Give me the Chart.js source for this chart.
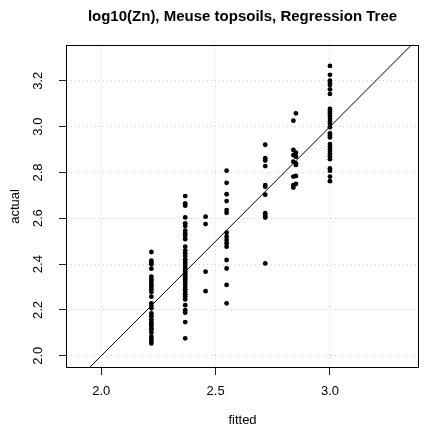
<!DOCTYPE html>
<html>
<head>
<meta charset="utf-8">
<style>
  html, body { margin: 0; padding: 0; background: #fff; }
  #chart-container { width: 432px; height: 427px; }
</style>
</head>
<body>
<div id="chart-container">
  <canvas id="tree-fit" width="432" height="427"></canvas>
</div>

<script src="https://cdn.jsdelivr.net/npm/chart.js@4"></script>
<script>
  // fitted value of each leaf of the tree
  const leafFitted = [2.219, 2.367, 2.456, 2.548, 2.717, 2.840, 2.851, 3.000];

  // observed log10(Zn) of the points that fall in each leaf
  const leaf1 = [2.453, 2.415, 2.408, 2.399, 2.380, 2.345, 2.333, 2.323, 2.311, 2.301, 2.290, 2.278, 2.258, 2.229, 2.218,
                 2.207, 2.185, 2.173, 2.159, 2.148, 2.140, 2.130, 2.119, 2.112, 2.100, 2.083, 2.074, 2.064, 2.054];
  const leaf2 = [2.697, 2.665, 2.655, 2.604, 2.578, 2.566, 2.546, 2.534, 2.523, 2.509, 2.476, 2.459, 2.447, 2.435, 2.421,
                 2.410, 2.400, 2.389, 2.377, 2.367, 2.360, 2.351, 2.342, 2.333, 2.323, 2.313, 2.301, 2.290, 2.279, 2.269,
                 2.258, 2.246, 2.221, 2.199, 2.188, 2.147, 2.076];
  const leaf3 = [2.607, 2.575, 2.367, 2.282];
  const leaf4 = [2.808, 2.755, 2.705, 2.675, 2.636, 2.624, 2.537, 2.520, 2.505, 2.491, 2.476, 2.418, 2.381, 2.309, 2.229];
  const leaf5 = [2.921, 2.862, 2.852, 2.828, 2.745, 2.738, 2.703, 2.622, 2.611, 2.603, 2.403];
  const leaf6 = [3.026, 2.898, 2.876, 2.847, 2.782, 2.745, 2.734];
  const leaf7 = [3.058, 2.886, 2.869, 2.840, 2.833, 2.785, 2.750];
  const leaf8 = [3.265, 3.226, 3.201, 3.192, 3.182, 3.163, 3.143, 3.077, 3.068, 3.058, 3.047, 3.035, 3.022, 3.012, 2.997,
                 2.971, 2.961, 2.953, 2.924, 2.913, 2.902, 2.891, 2.881, 2.870, 2.858, 2.818, 2.808, 2.782, 2.762];

  const xTicks = [2.0, 2.5, 3.0];
  const yTicks = [2.0, 2.2, 2.4, 2.6, 2.8, 3.0, 3.2];
  const oneToOne = [1.8, 3.4];

  const FONT = "'Liberation Sans', Arial, Helvetica, sans-serif";

  const leaves = [leaf1, leaf2, leaf3, leaf4, leaf5, leaf6, leaf7, leaf8];
  const points = [];
  leaves.forEach((vals, i) => vals.forEach((v) => points.push({ x: leafFitted[i], y: v })));

  // R style box round the plot region
  const plotBox = {
    id: 'plotBox',
    afterDraw(chart) {
      const { ctx, chartArea: a } = chart;
      ctx.save();
      ctx.strokeStyle = '#000';
      ctx.lineWidth = 1;
      ctx.strokeRect(a.left - 0.5, a.top - 0.5, a.right - a.left + 1, a.bottom - a.top + 1);
      ctx.restore();
    }
  };

  const gridOpts = {
    color: '#d3d3d3',
    lineWidth: 1,
    tickColor: '#222',
    tickWidth: 1,
    tickLength: 8
  };

  new Chart(document.getElementById('tree-fit'), {
    type: 'scatter',
    data: {
      datasets: [
        {
          label: '1:1',
          type: 'line',
          data: oneToOne.map((v) => ({ x: v, y: v })),
          borderColor: '#000',
          borderWidth: 1,
          pointRadius: 0,
          fill: false
        },
        {
          label: 'log10(Zn)',
          data: points,
          backgroundColor: '#000',
          borderWidth: 0,
          pointRadius: 2.4,
          pointHoverRadius: 2.4
        }
      ]
    },
    options: {
      responsive: false,
      animation: false,
      layout: { padding: { left: 0, right: 14, top: 0, bottom: 0 } },
      plugins: {
        legend: { display: false },
        tooltip: { enabled: false },
        title: {
          display: true,
          text: 'log10(Zn), Meuse topsoils, Regression Tree',
          fullSize: false,
          color: '#000',
          font: { family: FONT, size: 15, weight: 'bold', lineHeight: 1.2 },
          padding: { top: 8, bottom: 20 }
        }
      },
      scales: {
        x: {
          type: 'linear',
          min: 1.850,
          max: 3.385,
          afterBuildTicks: (scale) => { scale.ticks = xTicks.map((v) => ({ value: v })); },
          afterFit: (scale) => { scale.height = 60; },
          grid: gridOpts,
          border: { display: false, dash: [1, 3] },
          ticks: {
            color: '#000',
            font: { family: FONT, size: 13 },
            padding: 8.7,
            maxRotation: 0,
            callback: (v) => Number(v).toFixed(1)
          },
          title: {
            display: true,
            text: 'fitted',
            color: '#000',
            font: { family: FONT, size: 13, lineHeight: 1 },
            padding: { top: 0, bottom: 0 }
          }
        },
        y: {
          type: 'linear',
          min: 1.951,
          max: 3.352,
          afterBuildTicks: (scale) => { scale.ticks = yTicks.map((v) => ({ value: v })); },
          afterFit: (scale) => { scale.width = 67; },
          grid: gridOpts,
          border: { display: false, dash: [1, 3] },
          ticks: {
            color: '#000',
            font: { family: FONT, size: 13 },
            padding: 11.2,
            minRotation: 90,
            maxRotation: 90,
            crossAlign: 'center',
            callback: (v) => Number(v).toFixed(1)
          },
          title: {
            display: true,
            text: 'actual',
            color: '#000',
            font: { family: FONT, size: 13, lineHeight: 1 },
            padding: { top: 9, bottom: 0 }
          }
        }
      }
    },
    plugins: [plotBox]
  });
</script>
</body>
</html>
